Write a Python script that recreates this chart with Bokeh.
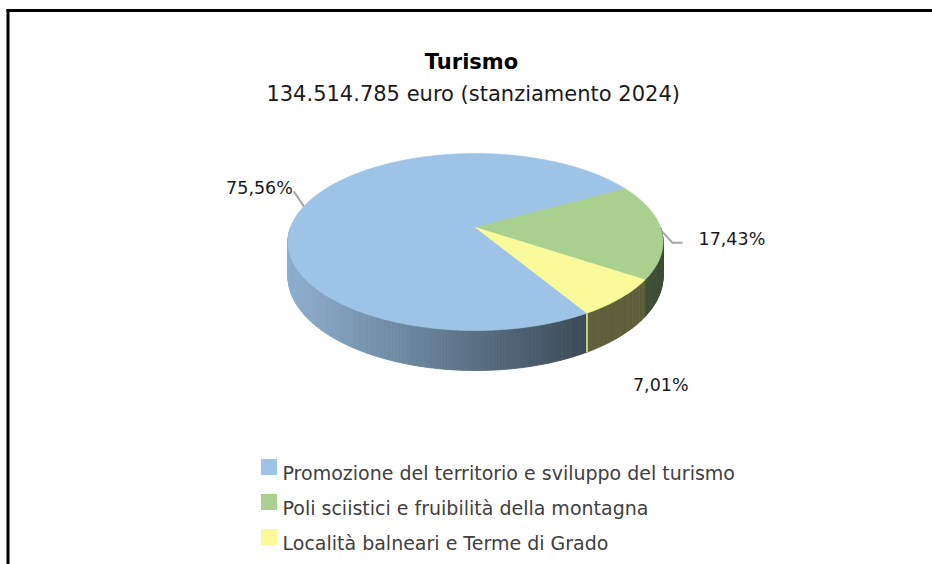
import numpy as np
from bokeh.plotting import figure
from bokeh.models import Range1d
from bokeh.embed import file_html
from bokeh.resources import INLINE
from bokeh.core.properties import value

# ---------------- data ----------------
title = "Turismo"
subtitle = "134.514.785  euro (stanziamento 2024)"
categories = [
    "Promozione del territorio e sviluppo del turismo",
    "Poli sciistici e fruibilità della montagna",
    "Località balneari e Terme di Grado",
]
shares = [75.56, 17.43, 7.01]
labels = ["75,56%", "17,43%", "7,01%"]

# ---------------- style / layout ----------------
colors = [(157, 195, 230), (169, 208, 142), (250, 250, 155)]
FONT = "DejaVu Sans"
CX, CY = 475.0, 227.0          # pie centre (screen px)
A, B, K = 185.0, 86.1, 0.164   # ellipse half-axes and perspective factor
D0 = 33.5                      # thickness
FIRST_SLICE = 148.8            # degrees clockwise from 12 o'clock

W, H = 932, 564
p = figure(width=W, height=H, output_backend="svg", toolbar_location=None,
           x_range=Range1d(0, W), y_range=Range1d(H, 0),
           x_axis_location=None, y_axis_location=None, min_border=0)
p.grid.visible = False
p.outline_line_color = None
p.background_fill_color = "white"
p.border_fill_color = "white"


def proj(theta_deg, drop=0.0):
    t = np.radians(theta_deg)
    s, c = np.sin(t), np.cos(t)
    f = 1.0 / (1.0 + K * s)
    return CX + A * c * f, CY - B * s * f + drop * D0 * f


def hexc(rgb):
    return "#%02x%02x%02x" % tuple(int(max(0, min(255, round(v)))) for v in rgb)


# slice angles (math degrees, decreasing = clockwise on screen)
bounds = []
cum = 0.0
for sh in shares:
    t0 = 90.0 - (FIRST_SLICE + cum * 3.6)
    t1 = t0 - sh * 3.6
    bounds.append((t0, t1))
    cum += sh

# ---- side walls (front half) ----
sx, sy, sc = [], [], []
for i, (t0, t1) in enumerate(bounds):
    for k in (-2, -1, 0, 1):
        lo, hi = t1 + 360 * k, t0 + 360 * k
        a, b = max(lo, -180.0), min(hi, 0.0)
        if b <= a:
            continue
        n = max(2, int((b - a) / 0.8))
        ts = np.linspace(a, b, n + 1)
        for j in range(n):
            ta, tb = ts[j], ts[j + 1]
            xa, ya = proj(ta)
            xb, yb = proj(tb)
            xa2, ya2 = proj(ta, 1)
            xb2, yb2 = proj(tb, 1)
            xm = 0.5 * (xa + xb)
            fac = np.interp(xm, [287, 585, 662], [0.90, 0.38, 0.37])
            col = hexc([v * fac for v in colors[i]])
            sx.append([xa, xb, xb2, xa2])
            sy.append([ya, yb, yb2, ya2])
            sc.append(col)
p.patches(sx, sy, fill_color=sc, line_color=sc, line_width=0.8)

# thin edge where blue meets yellow on the side
tb_edge = bounds[0][0]
ex0, ey0 = proj(tb_edge)
ex1, ey1 = proj(tb_edge, 1)
p.line([ex0, ex1], [ey0, ey1], line_color="#f2f29a", line_width=1.5)

# ---- top faces ----
tx, ty, tc = [], [], []
for i, (t0, t1) in enumerate(bounds):
    ts = np.linspace(t0, t1, max(8, int(abs(t0 - t1))))
    xs, ys = proj(ts)
    tx.append([CX] + list(xs))
    ty.append([CY] + list(ys))
    tc.append(hexc(colors[i]))
p.patches(tx, ty, fill_color=tc, line_color=tc, line_width=0.6)

# ---- data labels ----
mids = [0.5 * (t0 + t1) for t0, t1 in bounds]
anchors = [proj(m) for m in mids]
label_off = [(-11, -18), (37, 8), (40, 87)]
label_align = ["right", "left", "center"]
leader_pts = [[(0, 0), (-10, -15)], [(0, 0), (11, 12), (21, 12)], None]
for i, lab in enumerate(labels):
    ax, ay = anchors[i]
    if leader_pts[i] is not None:
        p.line([ax + dx for dx, dy in leader_pts[i]],
               [ay + dy for dx, dy in leader_pts[i]],
               line_color="#a6a6a6", line_width=2)
    p.text(x=[ax + label_off[i][0]], y=[ay + label_off[i][1]], text=[lab],
           text_font=value(FONT), text_font_size=value("17.5px"),
           text_align=label_align[i], text_baseline="alphabetic",
           text_color="#1a1a1a")

# ---- titles ----
p.text(x=[471], y=[61], text=[title], text_font=value(FONT),
       text_font_size=value("21px"), text_font_style="bold",
       text_align="center", text_baseline="alphabetic", text_color="#000000")
p.text(x=[476], y=[93], text=[subtitle], text_font=value(FONT),
       text_font_size=value("21px"), text_align="center",
       text_baseline="alphabetic", text_color="#1a1a1a")

# ---- legend ----
leg_y = [466.5, 501.5, 536.5]
p.rect(x=[268.5] * 3, y=leg_y, width=16, height=16,
       fill_color=[hexc(c) for c in colors], line_color=None)
p.text(x=[282] * 3, y=[yy + 5.5 for yy in leg_y], text=categories,
       text_font=value(FONT), text_font_size=value("19px"),
       text_align="left", text_baseline="alphabetic", text_color="#404040")

# ---- frame (top and left border) ----
p.line([6, W], [10, 10], line_color="black", line_width=3)
p.line([7.5, 7.5], [9, H], line_color="black", line_width=3)

open("out.html", "w").write(file_html(p, INLINE))
